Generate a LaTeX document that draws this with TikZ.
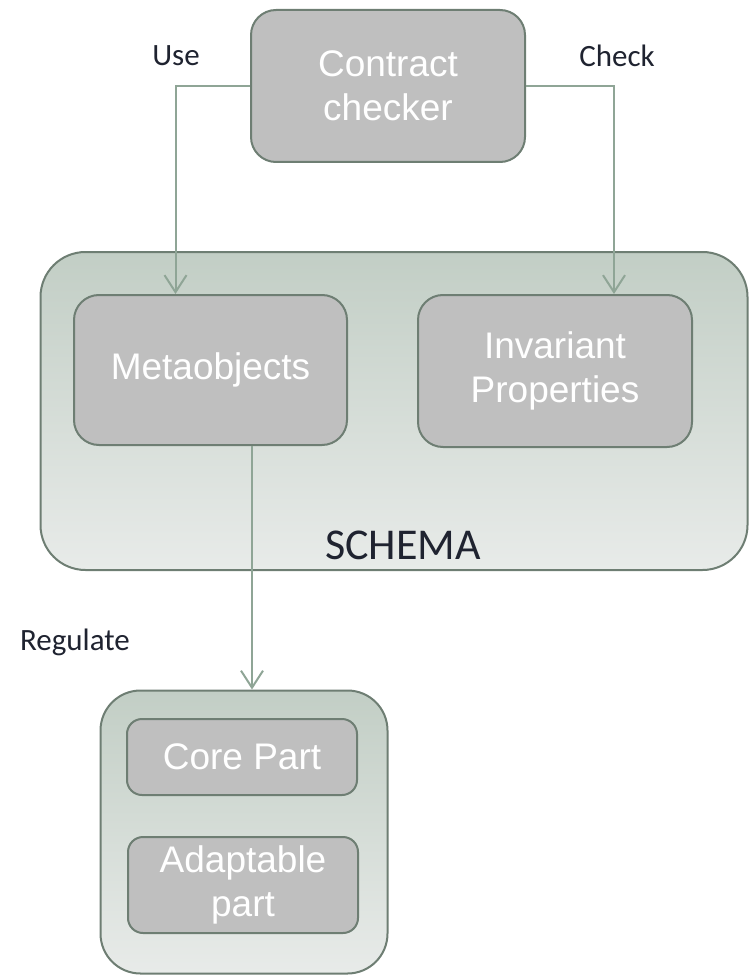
\documentclass[tikz,border=0pt]{standalone}
\usepackage{fontspec}
\setmainfont{Carlito}
\newfontfamily\boxfont{Liberation Sans}
\usetikzlibrary{arrows.meta,calc}

\definecolor{edge}{HTML}{6E7E73}
\definecolor{wire}{HTML}{8FA596}
\definecolor{boxgray}{HTML}{BFBFBF}
\definecolor{panetop}{HTML}{C2CEC5}
\definecolor{panebot}{HTML}{E8EBE9}
\definecolor{ink}{HTML}{1F2330}

\tikzset{
  blockbox/.style={draw=edge, line width=2pt, fill=boxgray, rounded corners=25pt,
    inner sep=0pt, align=center, text=white,
    font=\boxfont\fontsize{37}{44}\selectfont},
  pane/.style={draw=edge, line width=2pt, top color=panetop, bottom color=panebot,
    inner sep=0pt},
  arr/.style={draw=wire, line width=2pt, -{Straight Barb[length=17pt,width=22pt,line width=2pt]}},
  tag/.style={text=ink, inner sep=0pt, font=\fontsize{31}{35}\selectfont}
}

\begin{document}
\begin{tikzpicture}[x=1pt,y=-1pt]
\useasboundingbox (0,0) rectangle (748,976);

% containers
\node[pane, rounded corners=45pt, minimum width=707pt, minimum height=318pt] (schema) at (394,411) {};
\node[pane, rounded corners=40pt, minimum width=287pt, minimum height=283pt] (impl) at (244,832) {};

% blocks
\node[blockbox, minimum width=274pt, minimum height=152pt] (cc) at (388,86) {Contract\\checker};
\node[blockbox, minimum width=273pt, minimum height=150pt] (meta) at (210.5,370) {Metaobjects};
\node[blockbox, minimum width=274pt, minimum height=152pt] (inv) at (555,371) {Invariant\\Properties};
\node[blockbox, rounded corners=15pt, minimum width=230pt, minimum height=76pt] (core) at (242,757) {Core Part};
\node[blockbox, rounded corners=15pt, minimum width=230pt, minimum height=96pt] (adapt) at (243,885) {Adaptable\\part};

% container title
\node[text=ink, inner sep=0pt, font=\fontsize{44}{50}\selectfont] (schematitle) at (403,545) {SCHEMA};

% connection points
\path (meta.north west) ++(102.5,0) coordinate (metaIn);
\path (inv.north west) ++(197,0) coordinate (invIn);
\path (meta.south west) ++(179,0) coordinate (metaOut);
\path (metaOut |- impl.north) coordinate (implIn);

% connectors
\draw[arr] (cc.west) -| (metaIn);
\draw[arr] (cc.east) -| (invIn);
\draw[arr] (metaOut) -- (implIn);

% connector labels
\node[tag] (use) at (176,56) {Use};
\node[tag] (check) at (617,56) {Check};
\node[tag] (regulate) at (75,642) {Regulate};
\end{tikzpicture}
\end{document}
